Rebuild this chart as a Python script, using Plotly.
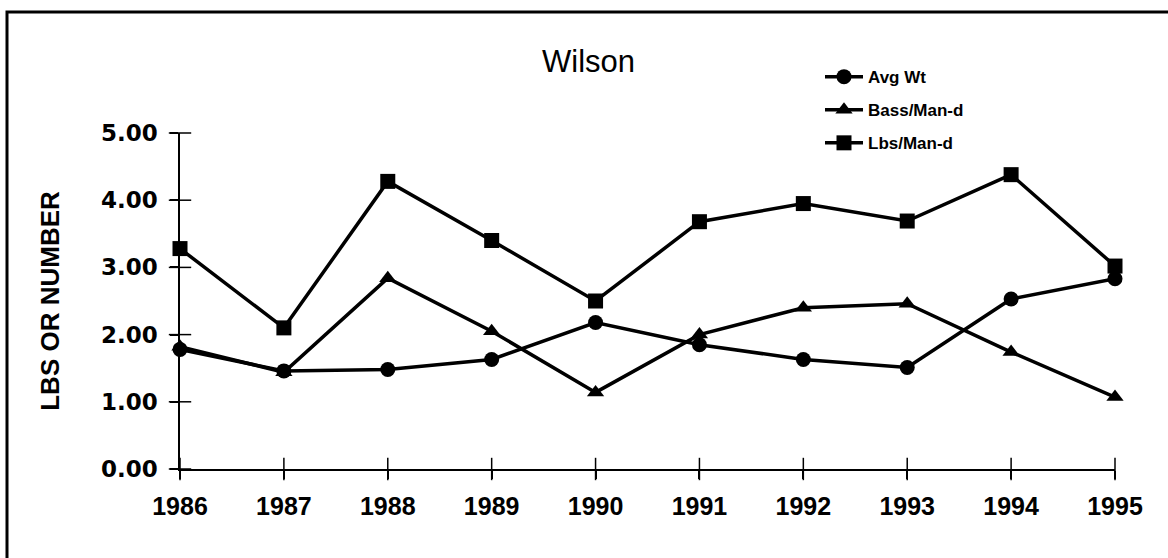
import plotly.graph_objects as go

years = [1986, 1987, 1988, 1989, 1990, 1991, 1992, 1993, 1994, 1995]
avg_wt = [1.78, 1.46, 1.48, 1.63, 2.18, 1.85, 1.63, 1.51, 2.53, 2.83]
bass_man_d = [1.82, 1.44, 2.84, 2.05, 1.14, 2.00, 2.40, 2.46, 1.74, 1.07]
lbs_man_d = [3.28, 2.10, 4.28, 3.40, 2.50, 3.68, 3.95, 3.69, 4.38, 3.02]
y_ticks = [0, 1, 2, 3, 4, 5]

font_name = "Liberation Sans, Arial, sans-serif"

fig = go.Figure()

# crossing tick marks (old spreadsheet style): short line markers centred on each axis
fig.add_trace(go.Scatter(
    x=years, y=[y_ticks[0]] * len(years), mode="markers", cliponaxis=False,
    marker=dict(symbol="line-ns-open", size=16, color="black",
                line=dict(color="black", width=1.5)),
    showlegend=False, hoverinfo="skip"))
fig.add_trace(go.Scatter(
    x=[years[0]] * len(y_ticks), y=y_ticks, mode="markers", cliponaxis=False,
    marker=dict(symbol="line-ew-open", size=16, color="black",
                line=dict(color="black", width=1.5)),
    showlegend=False, hoverinfo="skip"))

for name, vals, sym in [("Avg Wt", avg_wt, "circle"),
                        ("Bass/Man-d", bass_man_d, "triangle-up"),
                        ("Lbs/Man-d", lbs_man_d, "square")]:
    fig.add_trace(go.Scatter(
        x=years, y=vals, name=name, legendgroup=name, mode="lines+markers",
        line=dict(color="black", width=3.5),
        marker=dict(symbol=sym, size=15, color="black"),
        cliponaxis=False,
    ))

axis_common = dict(showgrid=False, zeroline=False, linecolor="black", linewidth=1.5,
                   ticks="outside", ticklen=8, tickwidth=1.5, tickcolor="black",
                   automargin=False)

fig.update_layout(
    width=1168, height=558,
    margin=dict(l=180, r=53, t=133, b=89),
    paper_bgcolor="white", plot_bgcolor="white",
    font=dict(family=font_name, color="black"),
    title=dict(text="Wilson", x=0.437, xref="paper", xanchor="center",
               y=0.891, yref="container", yanchor="middle",
               font=dict(size=31, family=font_name)),
    xaxis=dict(range=[1986, 1995], tickvals=years, ticktext=[str(y) for y in years],
               tickfont=dict(size=25, weight="bold"), ticklabelstandoff=6,
               **axis_common),
    yaxis=dict(range=[0, 5], tickvals=y_ticks, ticktext=["%.2f" % v for v in y_ticks],
               tickfont=dict(size=23, weight="bold", family="DejaVu Sans"),
               ticklabelstandoff=8,
               title=dict(text="LBS OR NUMBER", standoff=34,
                          font=dict(size=26, weight="bold")),
               **axis_common),
    legend=dict(x=(820 - 180) / 935, xanchor="left", y=1.22, yanchor="top",
                bgcolor="rgba(0,0,0,0)", traceorder="grouped", tracegroupgap=8,
                itemwidth=38,
                font=dict(size=17, weight="bold", family=font_name)),
    shapes=[dict(type="rect", xref="paper", yref="paper",
                 x0=(7 - 180) / 935, x1=1.2, y0=-0.5, y1=1 + (133 - 12) / 336,
                 line=dict(color="black", width=3))],
)

fig.write_html("out.html", config={"displayModeBar": False},
               post_script="document.body.style.margin='0';")
